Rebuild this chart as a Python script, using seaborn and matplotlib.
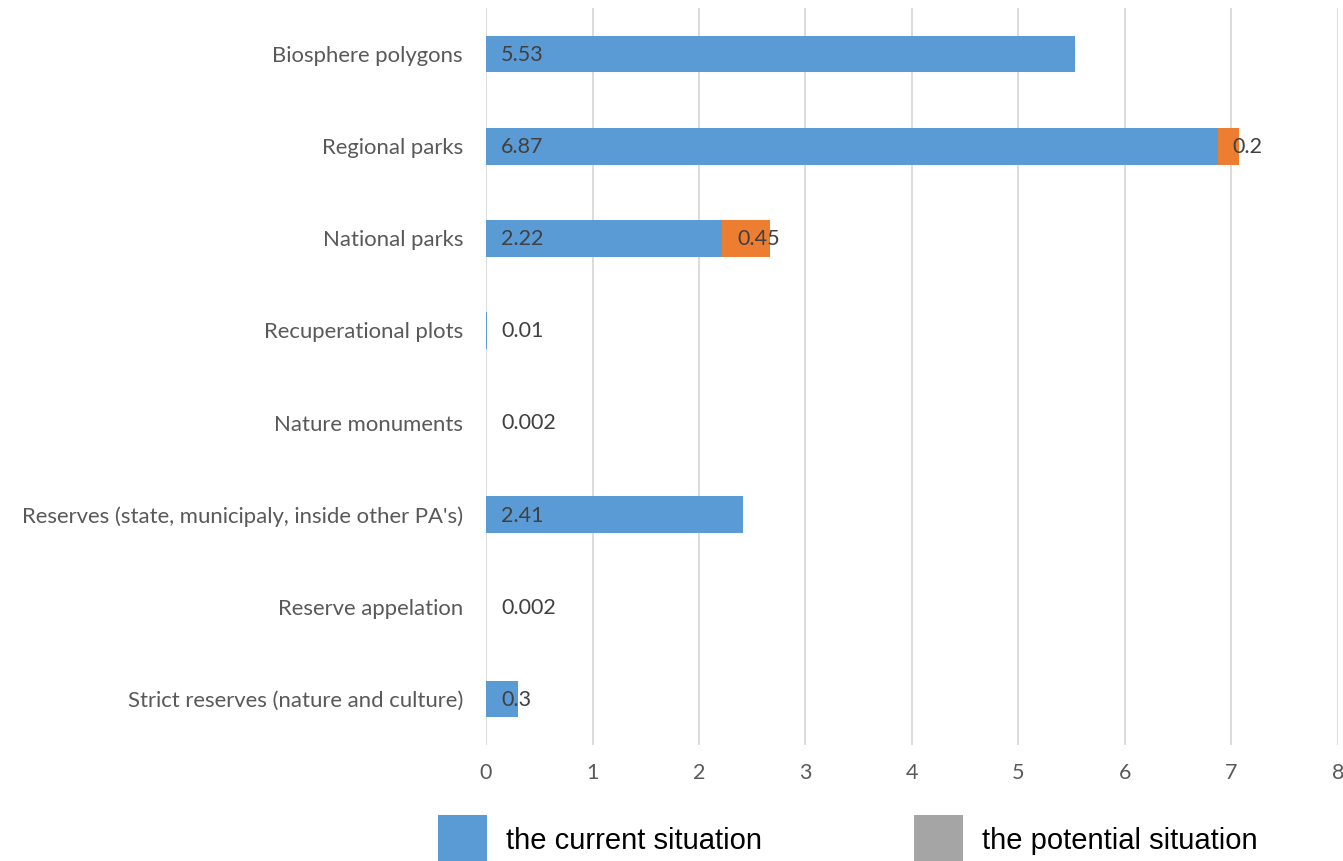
import matplotlib
matplotlib.use("Agg")
import matplotlib.pyplot as plt
from matplotlib.patches import Patch
import seaborn as sns
import pandas as pd

categories = [
    "Biosphere polygons",
    "Regional parks",
    "National parks",
    "Recuperational plots",
    "Nature monuments",
    "Reserves (state, municipaly, inside other PA's)",
    "Reserve appelation",
    "Strict reserves (nature and culture)",
]
current = [5.53, 6.87, 2.22, 0.01, 0.002, 2.41, 0.002, 0.3]
potential = [0, 0.2, 0.45, 0, 0, 0, 0, 0]
current_labels = ["5.53", "6.87", "2.22", "0.01", "0.002", "2.41", "0.002", "0.3"]
potential_labels = ["", "0.2", "0.45", "", "", "", "", ""]
x_ticks = [0, 1, 2, 3, 4, 5, 6, 7, 8]
legend_labels = ["the current situation", "the potential situation"]

BLUE = "#5b9bd5"
ORANGE = "#ed7d31"
GRAY = "#a5a5a5"

sns.set_theme(style="white")
plt.rcParams["font.family"] = ["Lato", "DejaVu Sans"]

df = pd.DataFrame({"cat": categories, "current": current, "potential": potential})
df["total"] = df["current"] + df["potential"]

fig = plt.figure(figsize=(13.43, 8.61), dpi=100)
ax = fig.add_axes([486 / 1343, 1 - 745 / 861, (1338 - 486) / 1343, (745 - 8) / 861])

sns.barplot(data=df, y="cat", x="total", color=ORANGE, saturation=1, width=0.4,
            orient="h", ax=ax, order=categories, linewidth=0)
sns.barplot(data=df, y="cat", x="current", color=BLUE, saturation=1, width=0.4,
            orient="h", ax=ax, order=categories, linewidth=0)

ax.set_xlim(0, 8)
ax.set_ylim(len(categories) - 0.5, -0.5)
ax.set_xticks(x_ticks)
ax.set_xticklabels([str(t) for t in x_ticks])
ax.set_xlabel("")
ax.set_ylabel("")
ax.xaxis.grid(True, color="#d9d9d9", linewidth=1.3)
ax.set_axisbelow(True)
for s in ax.spines.values():
    s.set_visible(False)
ax.tick_params(axis="x", length=0, pad=13, labelsize=15.5, labelcolor="#595959")
ax.tick_params(axis="y", length=0, pad=16.5, labelsize=15.9, labelcolor="#595959")

# value labels at segment starts
pad = 0.14
for i, (c, p) in enumerate(zip(current, potential)):
    ax.text(pad, i + 0.01, current_labels[i], ha="left", va="center", fontsize=15.5, color="#404040")
    if potential_labels[i]:
        ax.text(c + pad, i + 0.01, potential_labels[i], ha="left", va="center", fontsize=15.5, color="#404040")

handles = [Patch(facecolor=BLUE, edgecolor="none"), Patch(facecolor=GRAY, edgecolor="none")]
leg = fig.legend(handles, legend_labels, loc="upper left", bbox_to_anchor=(438 / 1343, 1 - 815 / 861),
                 ncol=2, frameon=False, borderpad=0, borderaxespad=0, handlelength=1.68, handleheight=2.3,
                 handletextpad=0.65, columnspacing=5.2,
                 prop={"family": ["Liberation Sans", "DejaVu Sans"], "size": 21})
for t in leg.get_texts():
    t.set_color("black")

fig.savefig("out.png", dpi=100)
